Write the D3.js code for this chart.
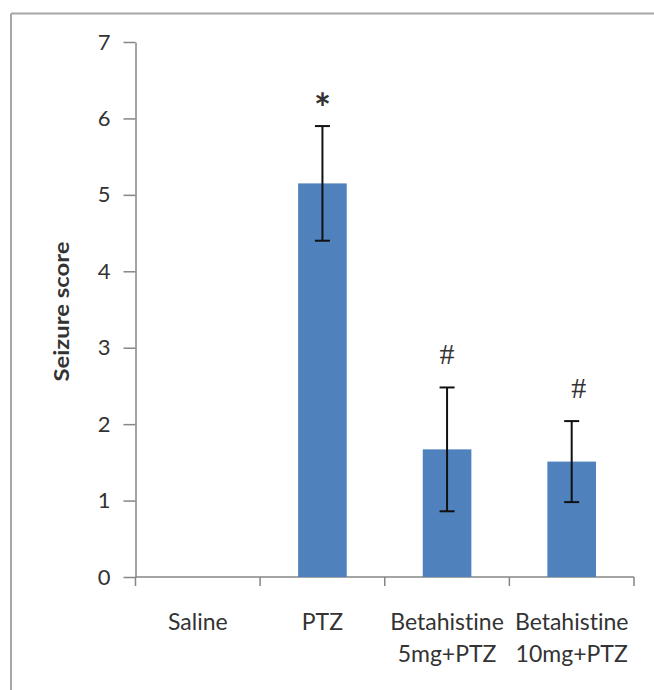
<!DOCTYPE html>
<html>
<head>
<meta charset="utf-8">
<script src="https://cdn.jsdelivr.net/npm/d3@7"></script>
<style>
  html, body { margin: 0; padding: 0; background: #fff; }
  svg { display: block; }
  text { font-family: Lato, "Open Sans", sans-serif; fill: #333; font-variant-ligatures: none; font-feature-settings: "liga" 0; }
</style>
</head>
<body>
<svg id="chart" width="654" height="690"></svg>
<script>
// Seizure score by treatment group (mean ± error)
const categories = ["Saline", "PTZ", "Betahistine 5mg+PTZ", "Betahistine 10mg+PTZ"];
const labelLines = [["Saline"], ["PTZ"], ["Betahistine", "5mg+PTZ"], ["Betahistine", "10mg+PTZ"]];
const scores = [0, 5.15, 1.67, 1.51];
const errors = [0, 0.75, 0.81, 0.53];
const marks = ["", "*", "#", "#"];
const yTicks = [0, 1, 2, 3, 4, 5, 6, 7];
const yTitle = "Seizure score";

const svg = d3.select("#chart");

// frame (only top and left edges visible)
svg.append("line").attr("x1", 11).attr("x2", 654).attr("y1", 13.5).attr("y2", 13.5)
  .attr("stroke", "#a6a6a6").attr("stroke-width", 2);
svg.append("line").attr("x1", 11).attr("x2", 11).attr("y1", 13.5).attr("y2", 690)
  .attr("stroke", "#a6a6a6").attr("stroke-width", 2);

const x = d3.scaleBand().domain(categories).range([135.5, 634]).padding(0);
const y = d3.scaleLinear().domain([0, 7]).range([577, 42]);
const barW = x.bandwidth() * 0.39;
const axisColor = "#868686";

// y axis
const yAxis = svg.append("g").attr("transform", "translate(135.5,0)")
  .call(d3.axisLeft(y).tickValues(yTicks).tickFormat(d3.format("d"))
    .tickSize(12).tickSizeOuter(0).tickPadding(13));
yAxis.select(".domain").attr("stroke", axisColor).attr("stroke-width", 1.5);
yAxis.selectAll(".tick line").attr("stroke", axisColor).attr("stroke-width", 1.5);
yAxis.selectAll(".tick text").style("font-size", "22px").attr("fill", "#333");

// y axis title
svg.append("text")
  .attr("transform", `translate(69,${(y(0) + y(7)) / 2 + 2}) rotate(-90)`)
  .attr("text-anchor", "middle")
  .style("font-size", "20px").style("font-weight", "bold").attr("fill", "#111")
  .attr("textLength", 140).attr("lengthAdjust", "spacingAndGlyphs")
  .text(yTitle);

// x axis: baseline with ticks at category boundaries
const xAxis = svg.append("g").attr("class", "x-axis");
xAxis.append("line")
  .attr("x1", x.range()[0]).attr("x2", x.range()[1])
  .attr("y1", y(0)).attr("y2", y(0))
  .attr("stroke", axisColor).attr("stroke-width", 1.5);
const bounds = categories.map(c => x(c)).concat([x(categories[categories.length - 1]) + x.bandwidth()]);
xAxis.selectAll("line.tick").data(bounds).join("line").attr("class", "tick")
  .attr("x1", d => d).attr("x2", d => d)
  .attr("y1", y(0)).attr("y2", y(0) + 9)
  .attr("stroke", axisColor).attr("stroke-width", 1.5);

// category labels
const lab = svg.append("g").selectAll("text").data(categories).join("text")
  .attr("text-anchor", "middle")
  .style("font-size", "23px")
  .attr("fill", "#333");
lab.each(function (d, i) {
  const t = d3.select(this);
  labelLines[i].forEach((line, k) => {
    t.append("tspan")
      .attr("x", x(d) + x.bandwidth() / 2)
      .attr("y", 629.5 + k * 32.5)
      .text(line);
  });
});

// bars
svg.append("g").selectAll("rect").data(categories).join("rect")
  .attr("x", d => x(d) + (x.bandwidth() - barW) / 2)
  .attr("width", barW)
  .attr("y", (d, i) => y(scores[i]))
  .attr("height", (d, i) => y(0) - y(scores[i]))
  .attr("fill", "#4f81bd");

// error bars
const eb = svg.append("g").selectAll("g").data(categories.filter((d, i) => errors[i] > 0)).join("g");
eb.each(function (d) {
  const i = categories.indexOf(d);
  const cx = x(d) + x.bandwidth() / 2;
  const g = d3.select(this);
  const lo = y(scores[i] - errors[i]), hi = y(scores[i] + errors[i]);
  g.append("line").attr("x1", cx).attr("x2", cx).attr("y1", lo).attr("y2", hi)
    .attr("stroke", "#111").attr("stroke-width", 2);
  [lo, hi].forEach(v => g.append("line")
    .attr("x1", cx - 7.5).attr("x2", cx + 7.5).attr("y1", v).attr("y2", v)
    .attr("stroke", "#111").attr("stroke-width", 2));
});

// significance marks above error bars
svg.append("text")
  .attr("x", x("PTZ") + x.bandwidth() / 2)
  .attr("y", y(scores[1] + errors[1]) - 3)
  .attr("text-anchor", "middle")
  .style("font-size", "40px").style("font-weight", "bold").attr("fill", "#111")
  .text(marks[1]);
[2, 3].forEach(i => {
  svg.append("text")
    .attr("x", x(categories[i]) + x.bandwidth() / 2 + (i === 3 ? 7 : 0))
    .attr("y", y(scores[i] + errors[i]) - 23)
    .attr("text-anchor", "middle")
    .style("font-family", "'Liberation Serif', serif")
    .style("font-size", "30px").attr("fill", "#222")
    .text(marks[i]);
});
</script>
</body>
</html>
